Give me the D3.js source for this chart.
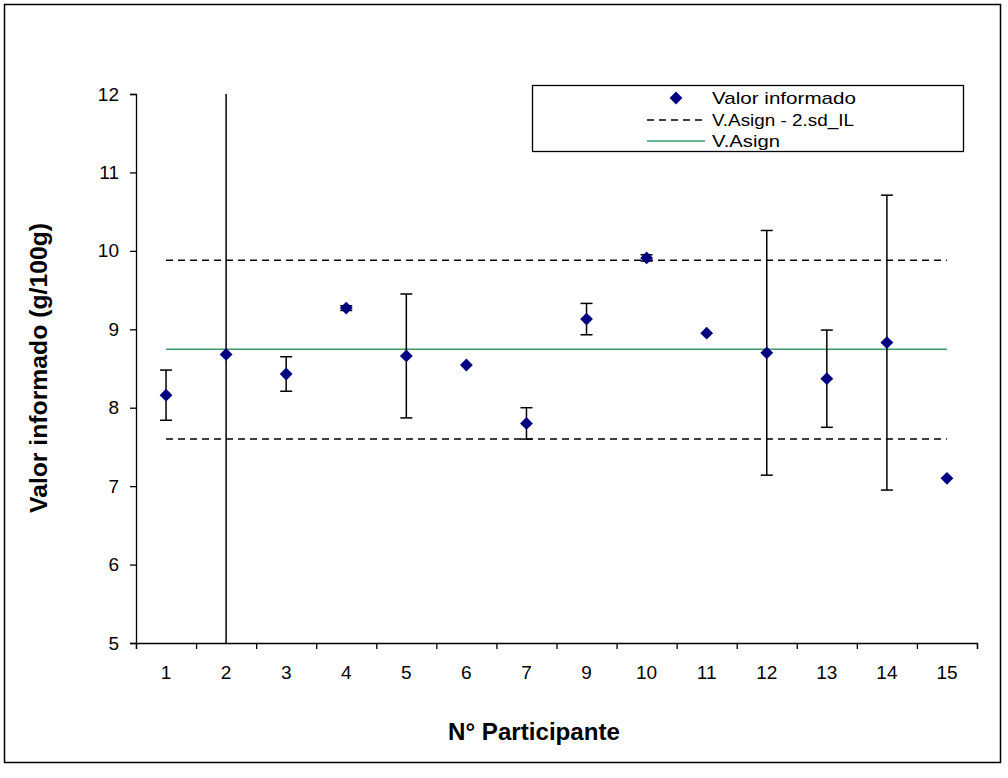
<!DOCTYPE html>
<html>
<head>
<meta charset="utf-8">
<script src="https://cdn.jsdelivr.net/npm/d3@7"></script>
<style>
  body { margin: 0; background: #fff; }
  svg { display: block; font-family: "Liberation Sans", Arial, sans-serif; }
</style>
</head>
<body>
<svg id="chart" width="1008" height="778"></svg>
<script>
// participants (8 is missing in the source)
const participants = ["1", "2", "3", "4", "5", "6", "7", "9", "10", "11", "12", "13", "14", "15"];
// reported values (g/100g)
const reported = [8.16, 8.68, 8.43, 9.27, 8.66, 8.545, 7.80, 9.13, 9.91, 8.95, 8.70, 8.37, 8.83, 7.10];
// +/- uncertainty of each reported value
const uncert = [0.32, 4.0, 0.22, 0.03, 0.79, 0, 0.20, 0.20, 0.04, 0, 1.56, 0.62, 1.88, 0];
const assigned = 8.745;      // V.Asign
const upperLim = 9.88;       // V.Asign + 2.sd_IL
const lowerLim = 7.60;       // V.Asign - 2.sd_IL
const yTicks = [5, 6, 7, 8, 9, 10, 11, 12];
const legendLabels = ["Valor informado", "V.Asign - 2.sd_IL", "V.Asign"];

const svg = d3.select("#chart");
const m = { left: 136, right: 977, top: 94, bottom: 643 };
const font = "Liberation Sans, Arial, sans-serif";

// outer frame
svg.append("rect")
  .attr("x", 4.5).attr("y", 4.5)
  .attr("width", 996).attr("height", 758)
  .attr("fill", "none").attr("stroke", "#000").attr("stroke-width", 1.5);

const x = d3.scaleBand().domain(participants).range([m.left, m.right]).padding(0);
const xi = d3.scaleLinear().domain([0, participants.length]).range([m.left, m.right]);
const y = d3.scaleLinear().domain([5, 12]).range([m.bottom, m.top]);
const cx = (i) => x(participants[i]) + x.bandwidth() / 2;

// y axis
const gy = svg.append("g")
  .attr("transform", `translate(${m.left},0)`)
  .call(d3.axisLeft(y).tickValues(yTicks).tickSize(6).tickPadding(11).tickFormat(d3.format("d")));
gy.select(".domain").attr("stroke", "#000").attr("stroke-width", 1.3);
gy.selectAll(".tick line").attr("stroke", "#000").attr("stroke-width", 1.3);
gy.selectAll("text").attr("font-size", 19).attr("fill", "#000").attr("font-family", font);

// x axis: tick marks between categories, labels centred
const gx = svg.append("g")
  .attr("transform", `translate(0,${m.bottom})`)
  .call(d3.axisBottom(xi).tickValues(d3.range(participants.length + 1)).tickSize(6).tickFormat(""));
gx.select(".domain").attr("stroke", "#000").attr("stroke-width", 1.3);
gx.selectAll(".tick line").attr("stroke", "#000").attr("stroke-width", 1.3);

const gxl = svg.append("g")
  .attr("transform", `translate(0,${m.bottom})`)
  .call(d3.axisBottom(x).tickSize(0).tickPadding(23));
gxl.select(".domain").remove();
gxl.selectAll("text").attr("font-size", 19).attr("fill", "#000").attr("font-family", font);

// reference lines, from first to last category centre
const xs = [cx(0), cx(participants.length - 1)];
[upperLim, lowerLim].forEach((v) => {
  svg.append("line")
    .attr("x1", xs[0]).attr("x2", xs[1])
    .attr("y1", y(v)).attr("y2", y(v))
    .attr("stroke", "#000").attr("stroke-width", 1.5)
    .attr("stroke-dasharray", "7,5");
});
svg.append("line")
  .attr("x1", xs[0]).attr("x2", xs[1])
  .attr("y1", y(assigned)).attr("y2", y(assigned))
  .attr("stroke", "#3a9a6a").attr("stroke-width", 1.5);

// error bars (clipped to plot range)
const clip = (v) => Math.max(5, Math.min(12, v));
const eb = svg.append("g");
reported.forEach((v, i) => {
  const e = uncert[i];
  if (!e) return;
  const hi = v + e, lo = v - e;
  const X = cx(i);
  eb.append("line").attr("x1", X).attr("x2", X)
    .attr("y1", y(clip(hi))).attr("y2", y(clip(lo)))
    .attr("stroke", "#000").attr("stroke-width", 1.5);
  [hi, lo].forEach((t) => {
    if (t > 12 || t < 5) return;
    eb.append("line").attr("x1", X - 6).attr("x2", X + 6)
      .attr("y1", y(t)).attr("y2", y(t))
      .attr("stroke", "#000").attr("stroke-width", 1.5);
  });
});

// diamonds
const diamond = d3.symbol().type(d3.symbolDiamond2).size(105);
svg.append("g").selectAll("path")
  .data(reported)
  .join("path")
  .attr("d", diamond)
  .attr("transform", (d, i) => `translate(${cx(i)},${y(d)})`)
  .attr("fill", "#000080");

// axis titles
svg.append("text")
  .attr("transform", `translate(47,368) rotate(-90)`)
  .attr("text-anchor", "middle")
  .attr("font-size", 23).attr("font-weight", "bold")
  .attr("textLength", 290).attr("lengthAdjust", "spacingAndGlyphs")
  .text("Valor informado (g/100g)");
svg.append("text")
  .attr("x", 534).attr("y", 740)
  .attr("text-anchor", "middle")
  .attr("font-size", 23).attr("font-weight", "bold")
  .attr("textLength", 172).attr("lengthAdjust", "spacingAndGlyphs")
  .text("N° Participante");

// legend
const lg = svg.append("g");
lg.append("rect")
  .attr("x", 532.5).attr("y", 85.5).attr("width", 431).attr("height", 66)
  .attr("fill", "#fff").attr("stroke", "#000").attr("stroke-width", 1.3);
const rows = [98, 120, 141];
const legLen = [144, 142, 68];
lg.append("path").attr("d", diamond)
  .attr("transform", `translate(676,${rows[0]})`).attr("fill", "#000080");
lg.append("line").attr("x1", 647).attr("x2", 702).attr("y1", rows[1]).attr("y2", rows[1])
  .attr("stroke", "#000").attr("stroke-width", 1.5).attr("stroke-dasharray", "7,5");
lg.append("line").attr("x1", 647).attr("x2", 705).attr("y1", rows[2]).attr("y2", rows[2])
  .attr("stroke", "#3a9a6a").attr("stroke-width", 1.5);
lg.selectAll("text.lab")
  .data(legendLabels)
  .join("text")
  .attr("class", "lab")
  .attr("x", 712).attr("y", (d, i) => rows[i] + 6)
  .attr("font-size", 17)
  .attr("textLength", (d, i) => legLen[i]).attr("lengthAdjust", "spacingAndGlyphs")
  .text((d) => d);
</script>
</body>
</html>
